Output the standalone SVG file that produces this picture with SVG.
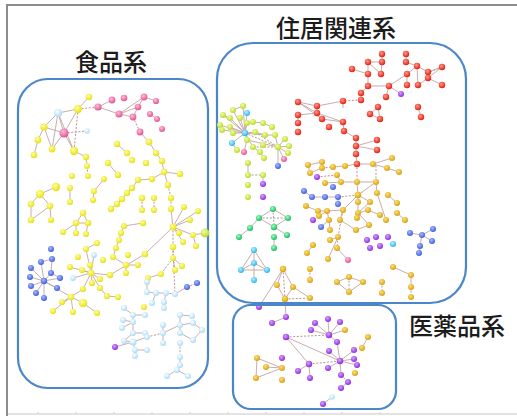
<svg xmlns="http://www.w3.org/2000/svg" width="517" height="416" viewBox="0 0 517 416">
<defs>
<radialGradient id="gy" cx="40%" cy="35%" r="65%"><stop offset="0" stop-color="#ffffa0"/><stop offset="1" stop-color="#e6e014"/></radialGradient>
<radialGradient id="gp" cx="40%" cy="35%" r="65%"><stop offset="0" stop-color="#ffc0dc"/><stop offset="1" stop-color="#e4508e"/></radialGradient>
<radialGradient id="gr" cx="40%" cy="35%" r="65%"><stop offset="0" stop-color="#ff9a8a"/><stop offset="1" stop-color="#e41e10"/></radialGradient>
<radialGradient id="go" cx="40%" cy="35%" r="65%"><stop offset="0" stop-color="#ffe070"/><stop offset="1" stop-color="#d8a010"/></radialGradient>
<radialGradient id="gv" cx="40%" cy="35%" r="65%"><stop offset="0" stop-color="#d8a0ff"/><stop offset="1" stop-color="#8c28e0"/></radialGradient>
<radialGradient id="gb" cx="40%" cy="35%" r="65%"><stop offset="0" stop-color="#a8b8ff"/><stop offset="1" stop-color="#3c5ce0"/></radialGradient>
<radialGradient id="glb" cx="40%" cy="35%" r="65%"><stop offset="0" stop-color="#ffffff"/><stop offset="1" stop-color="#a8daf6"/></radialGradient>
<radialGradient id="gc" cx="40%" cy="35%" r="65%"><stop offset="0" stop-color="#b0f0ff"/><stop offset="1" stop-color="#30b4ec"/></radialGradient>
<radialGradient id="gg" cx="40%" cy="35%" r="65%"><stop offset="0" stop-color="#a0ffc0"/><stop offset="1" stop-color="#18b860"/></radialGradient>
<radialGradient id="gyg" cx="40%" cy="35%" r="65%"><stop offset="0" stop-color="#f0ffa0"/><stop offset="1" stop-color="#b8d828"/></radialGradient>
</defs>
<style>
.frame{fill:none;stroke:#8c8c8c;stroke-width:2}
.box{fill:none;stroke:#4a86c8;stroke-width:2.2}
.lbl{font-family:"Noto Sans CJK JP","Noto Sans CJK SC",sans-serif;font-size:24px;font-weight:500;fill:#1c1c1c;text-anchor:middle}
.e{fill:none;stroke:#c4a4a4;stroke-width:0.9}
.d{fill:none;stroke:#b89494;stroke-width:1;stroke-dasharray:2 1.6}
circle{stroke:none}
.y{fill:url(#gy)} .p{fill:url(#gp)} .r{fill:url(#gr)} .o{fill:url(#go)} .v{fill:url(#gv)}
.b{fill:url(#gb)} .lb{fill:url(#glb)} .c{fill:url(#gc)} .g{fill:url(#gg)} .yg{fill:url(#gyg)}
</style>
<rect width="517" height="416" fill="#fff"/>
<g id="frame">
<path class="frame" d="M7 5H517M7 4V416"/>
<path d="M8 414H517" stroke="#c8c8c8" stroke-width="1" fill="none"/>
<path d="M38 414v-2M76 414v-2M114 414v-2M152 414v-2M190 414v-2M228 414v-2M266 414v-2M304 414v-2M342 414v-2M380 414v-2" stroke="#d0d0d0" stroke-width="1"/>
</g>
<g id="connectors">
<path class="e" d="M58 113L44 127M58 113L64 133M58 113L52 149M58 113L74 151M44 127L64 133M44 127L38 140M44 127L52 149M64 133L74 151M64 133L52 149M38 140L34 155M78 109L58 113M78 109L64 133M78 109L89 97M98 107L112 100M98 107L119 114M119 114L133 117M119 114L138 107M138 107L144 97M144 97L156 101M133 117L138 107M119 114L144 97M140 132L149 142M149 142L156 153M156 153L162 161M162 161L164 172M164 172L152 179M164 172L180 174M164 172L168 185M171 209L173 227M150 114L157 119M74 151L86 157M86 157L87 166M117 144L127 153M108 163L118 175M152 179L138 180M138 180L132 188M132 188L127 193M127 193L122 199M122 199L117 204M117 204L111 209M104 179L94 191M94 191L93 200M173 227L184 207M173 227L190 220M173 227L198 211M173 227L179 233M173 227L193 235M173 227L183 242M173 227L145 254M145 254L110 275M143 223L124 226M124 226L121 233M121 233L119 240M119 240L116 248M116 248L113 257M173 258L182 266M173 258L175 270M196 246L193 235M205 233L193 235M161 274L148 278M113 257L126 265M126 265L138 265M126 265L126 273M91 273L82 270M91 273L70 267M91 273L100 279M91 273L92 283M91 273L83 289M91 273L73 278M91 273L100 288M91 273L94 255M91 273L86 249M86 249L97 243M91 273L110 275M71 297L53 311M71 297L62 302M71 297L73 312M71 297L83 303M71 297L83 289M71 297L44 281M83 303L97 313M100 288L107 296M107 296L118 297M76 223L83 213M88 223L83 213M76 223L88 223M76 223L76 233M88 223L86 234M63 232L76 223M40 194L56 187M40 194L31 204M40 194L50 206M31 204L31 220M50 206L51 220M31 220L50 206M70 188L70 202M44 281L31 268M44 281L41 262M44 281L51 273M44 281L30 277M44 281L31 286M44 281L36 293M44 281L44 298M44 281L57 288M44 281L60 278M41 262L52 259M52 259L51 273M51 273L60 278M147 282L147 292M147 292L156 293M156 293L166 293M175 294L187 287M156 293L152 303M166 293L164 302M164 302L164 308M124 308L133 315M133 315L145 315M133 315L133 322M123 320L133 322M133 322L122 328M133 322L133 333M133 333L145 333M133 333L124 341M124 341L133 342M133 342L147 337M133 342L115 347M133 342L135 350M135 350L147 350M135 350L135 356M163 325L163 333M163 333L180 325M180 315L192 316M180 315L180 325M180 325L193 323M193 323L202 330M202 330L193 340M180 325L180 333M180 333L193 340M163 333L163 343M180 357L180 365M180 365L177 370M177 370L167 376M177 370L188 376"/>
<path class="d" d="M78 109L98 107M133 117L140 132M168 185L171 198M171 198L171 209M78 109L74 151M64 133L87 131M142 198L142 210M154 198L154 210M173 227L173 247M173 247L173 258M173 247L175 294M166 293L175 294M187 287L197 283M147 337L163 333M180 343L180 357M173 258L161 274M87 166L88 176"/>
<path class="e" d="M382 54L382 62M368 62L382 62M368 62L368 74M382 62L381 74M368 62L381 74M352 69L368 74M368 74L368 86M368 86L389 86M389 86L407 74M406 54L406 62M406 62L417 66M417 66L407 74M407 74L407 85M417 66L418 85M417 66L428 72M428 72L442 67M442 67L428 78M428 78L442 85M418 85L428 78M389 86L386 97M389 86L401 94M368 86L361 93M361 93L361 100M343 101L317 106M317 106L298 102M298 102L317 113M298 102L322 119M317 106L317 113M317 113L298 115M298 115L298 123M317 113L343 122M322 119L343 122M343 122L344 131M344 131L356 138M356 138L356 146M356 146L377 140M356 146L377 150M356 146L356 154M356 154L357 164M378 107L370 114M370 114L380 119M378 107L380 119M418 107L421 117M343 101L343 108"/>
<path class="d" d="M361 100L343 101M428 72L428 78M442 67L430 72"/>
<path class="e" d="M245 133L233 110M245 133L243 106M245 133L247 113M245 133L223 115M245 133L230 118M245 133L240 118M245 133L247 123M245 133L220 125M245 133L230 127M245 133L222 130M245 133L233 133M245 133L232 143M245 133L255 132M245 133L247 140M245 133L253 147M245 133L265 135M278 147L285 139M278 147L289 146M278 147L288 153M278 147L284 159M278 147L278 166M278 147L275 135M247 140L278 147M253 122L263 123M263 123L272 127M255 132L265 135M265 135L275 135M244 152L247 140M237 150L232 143M260 152L264 158M253 147L260 152M233 110L243 106M223 115L230 118M263 175L263 184M248 163L248 175"/>
<path class="d" d="M245 133L278 147M253 147L278 147M248 175L263 175M255 132L278 147"/>
<path class="e" d="M273 209L259 218M273 209L288 218M259 218L274 227M288 218L274 227M274 227L287 235M250 228L239 237M250 228L259 218M274 237L274 248M254 250L254 263M254 250L241 270M254 250L267 270M254 263L241 270M254 263L267 270M254 263L254 280M241 270L267 270"/>
<path class="d" d="M259 218L288 218M273 209L274 227"/>
<path class="e" d="M308 165L322 162M308 165L310 173M310 173L322 168M322 162L322 168M333 167L345 166M345 166L357 164M357 164L373 164M373 164L392 158M373 164L387 168M387 168L399 172M357 182L358 195M358 195L376 182M376 182L377 193M358 195L370 202M338 197L325 197M325 197L312 197M312 197L304 191M338 197L338 204M337 175L341 182M325 183L341 182M341 182L357 182M358 195L343 210M343 210L340 220M358 213L357 218M358 213L369 225M358 213L368 210M368 210L380 215M318 211L327 211M327 211L343 210M327 211L329 220M319 216L327 211M306 206L318 211M329 220L330 230M340 220L356 230M356 230L369 225M388 195L397 203M397 213L405 220M313 245L307 253M338 237L330 240M337 248L348 260M349 277L337 282M337 282L349 292M349 292L363 282M363 282L349 277M393 267L411 275M411 275L411 287M283 269L277 285M283 269L293 287M277 285L285 299M293 287L285 299M293 287L310 298M283 269L259 307M285 299L286 317M410 233L422 235M422 235L433 229M422 235L432 241M422 235L420 246M420 246L419 253M358 195L358 213M376 182L357 182M386 220L377 193M328 259L338 237M370 202L358 213M329 220L321 227"/>
<path class="d" d="M322 168L333 167M357 164L357 182M358 195L338 197M343 210L338 237M338 237L337 248M349 277L349 292M411 287L411 297M382 282L382 293M310 269L310 280M283 269L285 299M285 299L310 298M317 177L337 175M376 182L376 164"/>
<path class="e" d="M315 323L329 335M328 319L329 335M340 322L329 335M311 330L329 335M345 330L329 335M329 335L337 342M286 337L340 361M286 337L309 364M340 361L354 350M340 361L354 359M340 361L357 365M340 361L328 368M340 361L341 375M340 361L329 351M309 364L298 371M309 364L310 378M362 348L368 337M348 382L341 388M332 397L323 404M272 323L286 317M257 358L256 378M256 378L282 368M266 367L282 368M257 358L282 368M337 342L340 361"/>
<path class="d" d="M286 337L329 335M309 364L340 361M341 375L348 382"/>
</g>
<g id="food-group">
<rect class="box" x="18" y="79" width="190" height="309" rx="30"/>
<text class="lbl" x="111" y="71">食品系</text>
<g id="food-nodes">
<circle class="y" cx="89" cy="97" r="3.3"/><circle class="y" cx="78" cy="109" r="4.2"/>
<circle class="p" cx="98" cy="107" r="3.6"/><circle class="p" cx="112" cy="100" r="3.4"/><circle class="p" cx="124" cy="98" r="3.3"/><circle class="p" cx="144" cy="97" r="3.4"/><circle class="p" cx="156" cy="101" r="3.1"/><circle class="p" cx="119" cy="114" r="3.6"/><circle class="p" cx="138" cy="107" r="3.3"/><circle class="p" cx="133" cy="117" r="3.4"/><circle class="p" cx="150" cy="114" r="3"/><circle class="p" cx="157" cy="119" r="3"/><circle class="p" cx="162" cy="129" r="3"/><circle class="p" cx="140" cy="132" r="3.4"/>
<circle class="lb" cx="58" cy="113" r="4"/><circle class="y" cx="44" cy="127" r="3.6"/><circle class="p" cx="64" cy="133" r="4.6"/><circle class="lb" cx="87" cy="131" r="2.8"/>
<circle class="y" cx="38" cy="140" r="3.4"/><circle class="y" cx="52" cy="149" r="3.4"/><circle class="y" cx="74" cy="151" r="4.2"/><circle class="y" cx="34" cy="155" r="3.3"/>
<circle class="y" cx="149" cy="142" r="3.4"/><circle class="y" cx="156" cy="153" r="3.2"/><circle class="y" cx="117" cy="144" r="3.2"/><circle class="y" cx="127" cy="153" r="3.2"/>
<circle class="y" cx="86" cy="157" r="3.2"/><circle class="y" cx="87" cy="166" r="3"/><circle class="y" cx="88" cy="176" r="3"/><circle class="y" cx="108" cy="163" r="3.2"/><circle class="y" cx="118" cy="175" r="3.2"/><circle class="y" cx="132" cy="160" r="3.2"/><circle class="y" cx="146" cy="163" r="3.2"/><circle class="y" cx="162" cy="161" r="3.2"/><circle class="y" cx="164" cy="172" r="3.3"/><circle class="y" cx="180" cy="174" r="3.2"/><circle class="y" cx="138" cy="180" r="3.2"/><circle class="y" cx="152" cy="179" r="3.2"/><circle class="y" cx="168" cy="185" r="3.2"/>
<circle class="y" cx="72" cy="176" r="3"/><circle class="y" cx="56" cy="187" r="4.2"/><circle class="y" cx="40" cy="194" r="4.2"/><circle class="y" cx="31" cy="204" r="3.3"/><circle class="y" cx="50" cy="206" r="3.3"/><circle class="y" cx="31" cy="220" r="3.3"/><circle class="y" cx="51" cy="220" r="3.1"/><circle class="y" cx="70" cy="188" r="3.1"/><circle class="y" cx="70" cy="202" r="3.1"/>
<circle class="y" cx="104" cy="179" r="3.1"/><circle class="y" cx="94" cy="191" r="3.1"/><circle class="y" cx="93" cy="200" r="3.1"/><circle class="y" cx="132" cy="188" r="3.2"/><circle class="y" cx="127" cy="193" r="3.2"/><circle class="y" cx="122" cy="199" r="3.2"/><circle class="y" cx="117" cy="204" r="3.2"/><circle class="y" cx="111" cy="209" r="3.2"/>
<circle class="y" cx="142" cy="198" r="3.3"/><circle class="y" cx="154" cy="198" r="3.1"/><circle class="y" cx="142" cy="210" r="3.1"/><circle class="y" cx="154" cy="210" r="3.1"/><circle class="y" cx="171" cy="198" r="3.2"/><circle class="y" cx="171" cy="209" r="3.2"/>
<circle class="y" cx="143" cy="223" r="3.2"/><circle class="y" cx="124" cy="226" r="3.1"/><circle class="y" cx="121" cy="233" r="3.1"/><circle class="y" cx="119" cy="240" r="3.1"/><circle class="y" cx="116" cy="248" r="3.1"/>
<circle class="y" cx="184" cy="207" r="3.1"/><circle class="y" cx="198" cy="211" r="3.1"/><circle class="y" cx="190" cy="220" r="3.1"/><circle class="y" cx="173" cy="227" r="3.4"/><circle class="y" cx="179" cy="233" r="3.1"/><circle class="y" cx="193" cy="235" r="3.1"/><circle class="yg" cx="205" cy="233" r="4.4"/><circle class="y" cx="183" cy="242" r="3.1"/><circle class="y" cx="196" cy="246" r="3.1"/><circle class="y" cx="173" cy="247" r="3.2"/>
<circle class="y" cx="83" cy="213" r="3.3"/><circle class="y" cx="76" cy="223" r="3.3"/><circle class="y" cx="88" cy="223" r="3.3"/><circle class="y" cx="63" cy="232" r="3.1"/><circle class="y" cx="76" cy="233" r="3.1"/><circle class="y" cx="86" cy="234" r="3.1"/>
<circle class="y" cx="97" cy="243" r="3.1"/><circle class="y" cx="86" cy="249" r="3.1"/><circle class="y" cx="78" cy="257" r="3.1"/><circle class="lb" cx="94" cy="255" r="2.9"/><circle class="y" cx="103" cy="260" r="3.1"/><circle class="y" cx="90" cy="265" r="3.1"/><circle class="y" cx="113" cy="257" r="3.1"/><circle class="y" cx="128" cy="255" r="3.1"/><circle class="y" cx="145" cy="254" r="3.3"/><circle class="y" cx="173" cy="258" r="3.1"/><circle class="y" cx="182" cy="266" r="3.1"/><circle class="y" cx="175" cy="270" r="3.1"/>
<circle class="y" cx="70" cy="267" r="3.1"/><circle class="y" cx="82" cy="270" r="3.1"/><circle class="y" cx="91" cy="273" r="3.4"/><circle class="y" cx="110" cy="275" r="3.3"/><circle class="y" cx="126" cy="265" r="3.2"/><circle class="y" cx="138" cy="265" r="3.1"/><circle class="y" cx="126" cy="273" r="3.1"/><circle class="y" cx="161" cy="274" r="3.1"/><circle class="y" cx="148" cy="278" r="3.1"/>
<circle class="lb" cx="73" cy="278" r="2.9"/><circle class="y" cx="92" cy="283" r="3.1"/><circle class="y" cx="100" cy="279" r="3.1"/><circle class="y" cx="83" cy="289" r="3.1"/><circle class="y" cx="100" cy="288" r="3.1"/><circle class="y" cx="107" cy="296" r="3.1"/><circle class="y" cx="118" cy="297" r="3.1"/>
<circle class="y" cx="71" cy="297" r="3.3"/><circle class="y" cx="83" cy="303" r="4.3"/><circle class="y" cx="53" cy="311" r="3.1"/><circle class="y" cx="73" cy="312" r="3.1"/><circle class="y" cx="97" cy="313" r="3.1"/><circle class="y" cx="62" cy="302" r="3.1"/><circle class="y" cx="144" cy="307" r="3.1"/>
<circle class="b" cx="51" cy="249" r="3"/><circle class="b" cx="41" cy="262" r="3"/><circle class="b" cx="52" cy="259" r="3"/><circle class="b" cx="31" cy="268" r="3"/><circle class="b" cx="51" cy="273" r="3"/><circle class="b" cx="44" cy="281" r="3.2"/><circle class="b" cx="30" cy="277" r="3"/><circle class="b" cx="60" cy="278" r="3"/><circle class="b" cx="31" cy="286" r="3"/><circle class="b" cx="36" cy="293" r="3"/><circle class="b" cx="44" cy="298" r="3"/><circle class="b" cx="57" cy="288" r="3"/>
<circle class="lb" cx="147" cy="282" r="3"/><circle class="lb" cx="147" cy="292" r="3"/><circle class="lb" cx="156" cy="293" r="3"/><circle class="lb" cx="166" cy="293" r="3"/><circle class="lb" cx="175" cy="294" r="3"/><circle class="b" cx="187" cy="287" r="3"/><circle class="b" cx="197" cy="283" r="3"/><circle class="lb" cx="152" cy="303" r="3"/><circle class="lb" cx="164" cy="302" r="3"/><circle class="lb" cx="164" cy="308" r="3"/>
<circle class="lb" cx="124" cy="308" r="3"/><circle class="lb" cx="133" cy="315" r="3"/><circle class="lb" cx="145" cy="315" r="3"/><circle class="lb" cx="123" cy="320" r="3"/><circle class="lb" cx="133" cy="322" r="3"/><circle class="lb" cx="122" cy="328" r="3"/><circle class="lb" cx="133" cy="333" r="3"/><circle class="lb" cx="145" cy="333" r="3"/><circle class="lb" cx="124" cy="341" r="3"/><circle class="lb" cx="133" cy="342" r="3.6"/><circle class="lb" cx="147" cy="337" r="3"/><circle class="v" cx="115" cy="347" r="3"/><circle class="lb" cx="135" cy="350" r="3"/><circle class="lb" cx="147" cy="350" r="3"/><circle class="lb" cx="135" cy="356" r="3"/>
<circle class="lb" cx="163" cy="325" r="3"/><circle class="lb" cx="163" cy="333" r="3"/><circle class="lb" cx="180" cy="315" r="3"/><circle class="lb" cx="192" cy="316" r="3"/><circle class="lb" cx="180" cy="325" r="3"/><circle class="lb" cx="193" cy="323" r="3"/><circle class="lb" cx="202" cy="330" r="3"/><circle class="lb" cx="180" cy="333" r="3"/><circle class="lb" cx="193" cy="340" r="3"/><circle class="lb" cx="163" cy="343" r="3"/><circle class="lb" cx="180" cy="343" r="3"/><circle class="lb" cx="180" cy="357" r="3"/><circle class="lb" cx="180" cy="365" r="3"/><circle class="lb" cx="177" cy="370" r="3"/><circle class="lb" cx="167" cy="376" r="3"/><circle class="lb" cx="188" cy="376" r="3"/>
</g>
</g>
<g id="housing-group">
<rect class="box" x="217" y="43" width="249" height="260" rx="36"/>
<text class="lbl" x="336" y="37">住居関連系</text>
<g id="housing-nodes">
<circle class="r" cx="382" cy="54" r="3.2"/><circle class="r" cx="406" cy="54" r="3.2"/><circle class="r" cx="368" cy="62" r="3.2"/><circle class="r" cx="382" cy="62" r="3.2"/><circle class="r" cx="406" cy="62" r="3.2"/><circle class="r" cx="352" cy="69" r="3.2"/><circle class="r" cx="368" cy="74" r="3.2"/><circle class="r" cx="381" cy="74" r="3.2"/><circle class="r" cx="417" cy="66" r="3.2"/><circle class="r" cx="407" cy="74" r="3.2"/><circle class="r" cx="428" cy="72" r="3.2"/><circle class="r" cx="442" cy="67" r="3.2"/><circle class="r" cx="428" cy="78" r="3.2"/><circle class="r" cx="442" cy="85" r="3.2"/><circle class="r" cx="418" cy="85" r="3.2"/><circle class="r" cx="407" cy="85" r="3.2"/><circle class="r" cx="389" cy="86" r="3.2"/><circle class="r" cx="368" cy="86" r="3.2"/><circle class="r" cx="361" cy="93" r="3.2"/><circle class="r" cx="386" cy="97" r="3.2"/><circle class="v" cx="401" cy="94" r="3"/><circle class="r" cx="361" cy="100" r="3.2"/><circle class="r" cx="343" cy="101" r="3.2"/>
<circle class="r" cx="298" cy="102" r="3.2"/><circle class="r" cx="317" cy="106" r="3.2"/><circle class="r" cx="317" cy="113" r="3.2"/><circle class="r" cx="298" cy="115" r="3.2"/><circle class="r" cx="298" cy="123" r="3.2"/><circle class="r" cx="298" cy="132" r="3.2"/><circle class="r" cx="322" cy="119" r="3.2"/><circle class="r" cx="329" cy="127" r="3.2"/><circle class="r" cx="343" cy="122" r="3.2"/><circle class="r" cx="344" cy="131" r="3.2"/><circle class="r" cx="378" cy="107" r="3.2"/><circle class="r" cx="370" cy="114" r="3.2"/><circle class="r" cx="380" cy="119" r="3.2"/><circle class="r" cx="418" cy="107" r="3.2"/><circle class="r" cx="421" cy="117" r="3.2"/><circle class="r" cx="356" cy="138" r="3.2"/><circle class="r" cx="356" cy="146" r="3.2"/><circle class="r" cx="377" cy="140" r="3.2"/><circle class="r" cx="377" cy="150" r="3.2"/><circle class="r" cx="356" cy="154" r="3.2"/><circle class="r" cx="357" cy="164" r="3.2"/>
<circle class="yg" cx="243" cy="106" r="3"/><circle class="yg" cx="233" cy="110" r="3"/><circle class="c" cx="247" cy="113" r="3"/><circle class="yg" cx="223" cy="115" r="3"/><circle class="yg" cx="230" cy="118" r="3"/><circle class="yg" cx="240" cy="118" r="3"/><circle class="yg" cx="247" cy="123" r="3"/><circle class="yg" cx="253" cy="122" r="3"/><circle class="yg" cx="263" cy="123" r="3"/><circle class="yg" cx="272" cy="127" r="3"/><circle class="yg" cx="220" cy="125" r="3"/><circle class="yg" cx="230" cy="127" r="3"/><circle class="yg" cx="222" cy="130" r="3"/><circle class="c" cx="245" cy="133" r="3.2"/><circle class="yg" cx="255" cy="132" r="3"/><circle class="yg" cx="265" cy="135" r="3"/><circle class="yg" cx="275" cy="135" r="3"/><circle class="yg" cx="233" cy="133" r="3"/><circle class="c" cx="232" cy="143" r="3"/><circle class="yg" cx="247" cy="140" r="3"/><circle class="yg" cx="253" cy="147" r="3"/><circle class="yg" cx="263" cy="145" r="3"/><circle class="yg" cx="285" cy="139" r="3"/><circle class="yg" cx="278" cy="147" r="3.2"/><circle class="yg" cx="289" cy="146" r="3"/><circle class="yg" cx="288" cy="153" r="3"/><circle class="yg" cx="237" cy="150" r="3"/><circle class="p" cx="244" cy="152" r="3"/><circle class="yg" cx="260" cy="152" r="3"/><circle class="yg" cx="264" cy="158" r="3"/><circle class="p" cx="284" cy="159" r="3"/><circle class="b" cx="278" cy="166" r="3"/>
<circle class="yg" cx="248" cy="163" r="3"/><circle class="yg" cx="248" cy="175" r="3"/><circle class="yg" cx="263" cy="175" r="3"/><circle class="yg" cx="248" cy="185" r="3"/><circle class="v" cx="263" cy="184" r="3"/><circle class="yg" cx="248" cy="197" r="3"/><circle class="v" cx="263" cy="197" r="3"/>
<circle class="g" cx="273" cy="209" r="3"/><circle class="g" cx="259" cy="218" r="3"/><circle class="g" cx="288" cy="218" r="3"/><circle class="g" cx="274" cy="227" r="3.2"/><circle class="g" cx="250" cy="228" r="3"/><circle class="g" cx="239" cy="237" r="3"/><circle class="g" cx="287" cy="235" r="3"/><circle class="g" cx="274" cy="237" r="3"/><circle class="g" cx="274" cy="248" r="3"/>
<circle class="c" cx="254" cy="250" r="3"/><circle class="c" cx="254" cy="263" r="3"/><circle class="c" cx="241" cy="270" r="3"/><circle class="c" cx="267" cy="270" r="3"/><circle class="c" cx="254" cy="280" r="3"/>
<circle class="o" cx="308" cy="165" r="3"/><circle class="o" cx="322" cy="162" r="3"/><circle class="o" cx="310" cy="173" r="3"/><circle class="o" cx="322" cy="168" r="3"/><circle class="o" cx="333" cy="167" r="3"/><circle class="o" cx="345" cy="166" r="3"/><circle class="o" cx="373" cy="164" r="3"/><circle class="o" cx="392" cy="158" r="3"/><circle class="o" cx="387" cy="168" r="3"/><circle class="o" cx="399" cy="172" r="3"/><circle class="v" cx="317" cy="177" r="3"/><circle class="o" cx="337" cy="175" r="3"/><circle class="o" cx="325" cy="183" r="3"/><circle class="o" cx="341" cy="182" r="3"/><circle class="o" cx="357" cy="182" r="3"/><circle class="o" cx="376" cy="182" r="3"/><circle class="b" cx="333" cy="187" r="3"/><circle class="o" cx="358" cy="195" r="3.2"/><circle class="o" cx="377" cy="193" r="3"/><circle class="o" cx="388" cy="195" r="3"/>
<circle class="b" cx="304" cy="191" r="3"/><circle class="b" cx="312" cy="197" r="3"/><circle class="b" cx="325" cy="197" r="3"/><circle class="b" cx="338" cy="197" r="3"/><circle class="b" cx="338" cy="204" r="3"/><circle class="o" cx="358" cy="202" r="3"/><circle class="o" cx="370" cy="202" r="3"/><circle class="o" cx="397" cy="203" r="3"/><circle class="o" cx="306" cy="206" r="3"/><circle class="o" cx="318" cy="211" r="3"/><circle class="o" cx="327" cy="211" r="3"/><circle class="o" cx="343" cy="210" r="3"/><circle class="o" cx="358" cy="213" r="3"/><circle class="o" cx="368" cy="210" r="3"/><circle class="o" cx="380" cy="215" r="3"/><circle class="o" cx="397" cy="213" r="3"/>
<circle class="v" cx="313" cy="220" r="3"/><circle class="o" cx="319" cy="216" r="3"/><circle class="o" cx="329" cy="220" r="3"/><circle class="o" cx="340" cy="220" r="3"/><circle class="o" cx="357" cy="218" r="3"/><circle class="o" cx="369" cy="225" r="3"/><circle class="o" cx="386" cy="220" r="3"/><circle class="o" cx="405" cy="220" r="3"/><circle class="b" cx="321" cy="227" r="3"/><circle class="o" cx="330" cy="230" r="3"/><circle class="o" cx="356" cy="230" r="3"/><circle class="o" cx="338" cy="237" r="3"/><circle class="o" cx="330" cy="240" r="3"/><circle class="o" cx="337" cy="248" r="3"/><circle class="p" cx="348" cy="260" r="3"/><circle class="o" cx="328" cy="259" r="3"/><circle class="o" cx="313" cy="245" r="3"/><circle class="o" cx="307" cy="253" r="3"/>
<circle class="v" cx="367" cy="240" r="3"/><circle class="v" cx="376" cy="237" r="3"/><circle class="v" cx="388" cy="237" r="3"/><circle class="v" cx="370" cy="248" r="3"/><circle class="v" cx="380" cy="246" r="3"/><circle class="c" cx="393" cy="244" r="3"/>
<circle class="b" cx="410" cy="233" r="3"/><circle class="b" cx="422" cy="235" r="3"/><circle class="b" cx="433" cy="229" r="3"/><circle class="b" cx="432" cy="241" r="3"/><circle class="b" cx="420" cy="246" r="3"/><circle class="b" cx="419" cy="253" r="3"/>
<circle class="o" cx="349" cy="277" r="3"/><circle class="o" cx="337" cy="282" r="3"/><circle class="o" cx="363" cy="282" r="3"/><circle class="o" cx="349" cy="292" r="3"/><circle class="o" cx="393" cy="267" r="3"/><circle class="o" cx="411" cy="275" r="3"/><circle class="o" cx="382" cy="282" r="3"/><circle class="o" cx="382" cy="293" r="3"/><circle class="o" cx="411" cy="287" r="3"/><circle class="o" cx="411" cy="297" r="3"/><circle class="o" cx="310" cy="269" r="3"/><circle class="o" cx="310" cy="280" r="3"/><circle class="o" cx="310" cy="298" r="3"/>
<circle class="o" cx="283" cy="269" r="3.2"/><circle class="o" cx="277" cy="285" r="3"/><circle class="o" cx="293" cy="287" r="3"/><circle class="o" cx="285" cy="299" r="3.2"/><circle class="v" cx="259" cy="307" r="3"/>
</g>
</g>
<g id="medicine-group">
<rect class="box" x="233" y="305" width="163" height="104" rx="18"/>
<text class="lbl" x="457" y="335">医薬品系</text>
<g id="medicine-nodes">
<circle class="v" cx="286" cy="317" r="3"/><circle class="v" cx="272" cy="323" r="3"/><circle class="v" cx="315" cy="323" r="3"/><circle class="v" cx="328" cy="319" r="3"/><circle class="v" cx="340" cy="322" r="3"/><circle class="v" cx="311" cy="330" r="3"/><circle class="v" cx="329" cy="335" r="3.2"/><circle class="o" cx="345" cy="330" r="3"/><circle class="v" cx="286" cy="337" r="3.2"/><circle class="v" cx="337" cy="342" r="3"/><circle class="v" cx="329" cy="351" r="3"/><circle class="o" cx="368" cy="337" r="3"/><circle class="o" cx="362" cy="348" r="3"/><circle class="v" cx="354" cy="350" r="3"/><circle class="v" cx="340" cy="361" r="3.2"/><circle class="v" cx="354" cy="359" r="3"/><circle class="v" cx="328" cy="368" r="3"/><circle class="v" cx="357" cy="365" r="3"/><circle class="v" cx="309" cy="364" r="3.2"/><circle class="v" cx="298" cy="371" r="3"/>
<circle class="o" cx="257" cy="358" r="3"/><circle class="v" cx="282" cy="358" r="3"/><circle class="o" cx="266" cy="367" r="3"/><circle class="o" cx="282" cy="368" r="3"/><circle class="o" cx="256" cy="378" r="3"/><circle class="o" cx="282" cy="380" r="3"/><circle class="v" cx="310" cy="378" r="3"/><circle class="v" cx="341" cy="375" r="3"/><circle class="o" cx="355" cy="373" r="3"/><circle class="v" cx="348" cy="382" r="3"/><circle class="v" cx="341" cy="388" r="3"/><circle class="lb" cx="332" cy="397" r="2.8"/><circle class="v" cx="323" cy="404" r="3"/>
</g>
</g>
</svg>
